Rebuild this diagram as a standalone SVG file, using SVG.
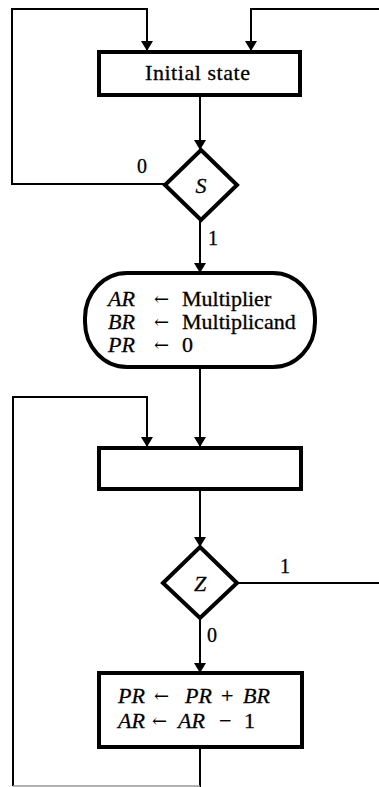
<svg xmlns="http://www.w3.org/2000/svg" width="379" height="787" viewBox="0 0 379 787">
<style>
.c{fill:none;stroke:#000;stroke-width:2}
.b{fill:#fff;stroke:#000;stroke-width:4}
.t{font-family:"Liberation Serif","Times New Roman",serif;font-size:22px;fill:#000;stroke:#000;stroke-width:0.3}
.i{font-style:italic}
.a{font-family:"DejaVu Serif","Liberation Serif",serif;font-size:18px;fill:#000}
.l{font-family:"Liberation Serif","Times New Roman",serif;font-size:20px;fill:#000;stroke:#000;stroke-width:0.3}
</style>
<defs>
<marker id="ah" viewBox="0 0 10 16" refX="10" refY="8" markerWidth="10" markerHeight="16" markerUnits="userSpaceOnUse" orient="auto">
<path d="M0,2 L10,8 L0,14 Z" fill="#000"/>
</marker>
</defs>
<rect width="379" height="787" fill="#fff"/>
<g id="connectors">
<polyline class="c" points="165,184 12,184 12,9 147,9 147,51" marker-end="url(#ah)"/>
<polyline class="c" points="379,9 251,9 251,51" marker-end="url(#ah)"/>
<line class="c" x1="200" y1="96" x2="200" y2="150" marker-end="url(#ah)"/>
<line class="c" x1="200" y1="220" x2="200" y2="273" marker-end="url(#ah)"/>
<line class="c" x1="200" y1="367" x2="200" y2="447" marker-end="url(#ah)"/>
<polyline class="c" points="13,786 13,397 147,397 147,447" marker-end="url(#ah)"/>
<line class="c" x1="200" y1="489" x2="200" y2="547" marker-end="url(#ah)"/>
<line class="c" x1="237" y1="583" x2="379" y2="583"/>
<line class="c" x1="200" y1="618" x2="200" y2="673" marker-end="url(#ah)"/>
<line class="c" x1="200" y1="748" x2="200" y2="787"/>
<line x1="13" y1="786" x2="200" y2="786" stroke="#999" stroke-width="1.5"/>
<text class="l" x="137" y="173">0</text>
<text class="l" x="208" y="245">1</text>
<text class="l" x="280" y="573">1</text>
<text class="l" x="207" y="642">0</text>
</g>
<g id="initial">
<rect class="b" x="99" y="52" width="201" height="43"/>
<text class="t" x="145" y="80" textLength="105" lengthAdjust="spacing">Initial state</text>
</g>
<g id="decisionS">
<polygon class="b" points="201,150 237,185 201,220 165,185"/>
<text class="t i" x="201" y="193" text-anchor="middle">S</text>
</g>
<g id="init">
<rect class="b" x="85" y="273" width="230" height="94" rx="42" ry="45"/>
<text class="t i" x="108" y="306">AR</text>
<text class="a" x="154" y="305">←</text>
<text class="t" x="182" y="306">Multiplier</text>
<text class="t i" x="108" y="329">BR</text>
<text class="a" x="154" y="328">←</text>
<text class="t" x="182" y="329">Multiplicand</text>
<text class="t i" x="108" y="352">PR</text>
<text class="a" x="154" y="351">←</text>
<text class="t" x="182" y="352">0</text>
</g>
<g id="empty">
<rect class="b" x="99" y="448" width="202" height="41"/>
</g>
<g id="decisionZ">
<polygon class="b" points="200,547 237,583 200,618 163,583"/>
<text class="t i" x="200" y="591" text-anchor="middle">Z</text>
</g>
<g id="update">
<rect class="b" x="99" y="673" width="203" height="74"/>
<text class="t i" x="118" y="703">PR</text>
<text class="a" x="154" y="702">←</text>
<text class="t i" x="185" y="703">PR</text>
<text class="t" x="221" y="703">+</text>
<text class="t i" x="243" y="703">BR</text>
<text class="t i" x="118" y="728">AR</text>
<text class="a" x="152" y="727">←</text>
<text class="t i" x="178" y="728">AR</text>
<text class="t" x="219" y="728">−</text>
<text class="t" x="244" y="728">1</text>
</g>
</svg>
